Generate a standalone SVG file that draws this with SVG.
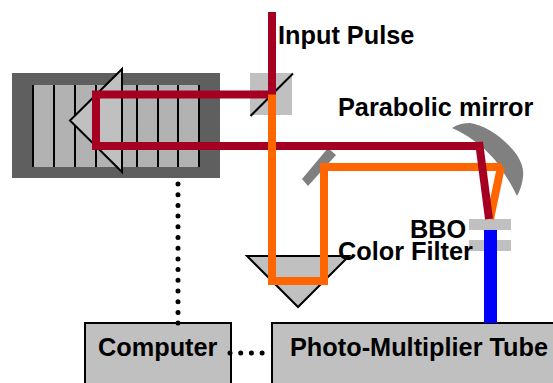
<svg xmlns="http://www.w3.org/2000/svg" width="553" height="383" viewBox="0 0 553 383">
<style>
text{font-family:"Liberation Sans",Arial,sans-serif;font-weight:700;font-size:25.300px;fill:#000}
.box{fill:#c0c0c0;stroke:#000;stroke-width:2}
.plate{fill:#c0c0c0}
.k{stroke:#000;stroke-width:2;fill:none}
.beam{fill:none;stroke-width:8;stroke-linejoin:miter}
.red{stroke:#a50021}.or{stroke:#ff6600}
.dot{fill:none;stroke:#000;stroke-width:5;stroke-linecap:round;stroke-dasharray:0 10.7}
</style>
<g id="delay-stage">
<rect x="12" y="73" width="208" height="105" fill="#5f5f5f"/>
<rect x="33" y="85" width="167" height="82" fill="#b2b2b2"/>
<path class="k" d="M33 85V167M54 85V167M75 85V167M96 85V167M117 85V167M137 85V167M158 85V167M178 85V167M199 85V167"/>
<path d="M122 69L70 120.500L122 172Z" fill="#c0c0c0" stroke="#000" stroke-width="2"/>
</g>
<g id="beam-splitter">
<rect x="250" y="73" width="42" height="42" class="plate"/>
<path class="k" d="M250.500 116L293 73.500"/>
</g>
<g id="folding-mirror"><path d="M302 179L328 148L336 155L308 186Z" fill="#808080"/></g>
<g id="parabolic-mirror"><path d="M452 128C458 124 464 123 470 123C484 125 503 136 517 155C522 163 524 170 523 177C522 185 520 190 517 196C510 181 503 172 495 160C483 146 468 135 452 128Z" fill="#808080"/></g>
<g id="retro-prism"><path d="M247 256H349L298 307Z" fill="#c0c0c0" stroke="#000" stroke-width="2"/></g>
<g id="bbo"><rect x="469" y="219" width="42" height="11" class="plate"/><text x="410" y="238">BBO</text></g>
<g id="color-filter"><rect x="469" y="240" width="42" height="11" class="plate"/><text x="338" y="260">Color Filter</text></g>
<g id="computer"><rect x="85" y="323" width="146" height="70" class="box"/><text x="98" y="356">Computer</text></g>
<g id="pmt"><rect x="272" y="323" width="290" height="70" class="box"/><text x="290" y="356">Photo-Multiplier Tube</text></g>
<g id="connectors">
<path class="beam red" d="M272 12V94.500H96V146H480"/>
<path class="beam or" d="M272 94.500V281H324V167H502"/>
<path class="beam or" d="M501 167L490 219"/>
<path class="beam red" d="M479 142L489 219"/>
<path d="M490.500 230V323" fill="none" stroke="#0000ff" stroke-width="13"/>
<path class="dot" d="M178 184V326"/>
<path class="dot" d="M230 353H264"/>
</g>
<text x="278" y="44">Input Pulse</text>
<text x="338" y="116">Parabolic mirror</text>
</svg>
